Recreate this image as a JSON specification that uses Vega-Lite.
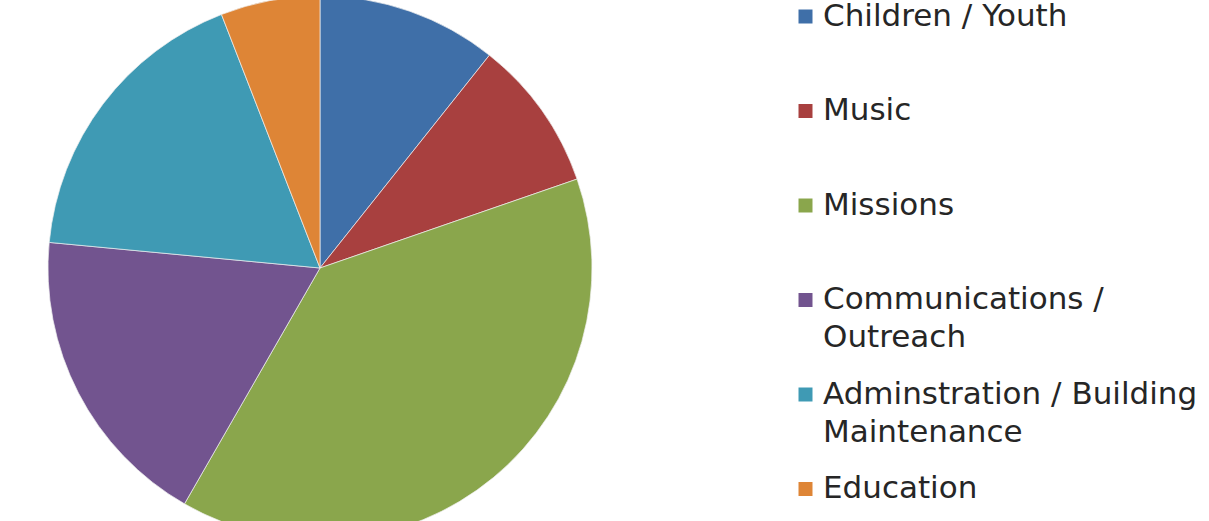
{
  "$schema": "https://vega.github.io/schema/vega-lite/v6.json",
  "width": 640,
  "height": 536,
  "autosize": {"type": "none"},
  "padding": {"left": 0, "top": 0, "right": 569, "bottom": 0},
  "background": "white",
  "data": {
    "values": [
      {"category": "Children / Youth", "rank": 1, "share": 10.7},
      {"category": "Music", "rank": 2, "share": 9.0},
      {"category": "Missions", "rank": 3, "share": 38.6},
      {"category": "Communications / Outreach", "rank": 4, "share": 18.2},
      {"category": "Adminstration / Building Maintenance", "rank": 5, "share": 17.6},
      {"category": "Education", "rank": 6, "share": 5.9}
    ]
  },
  "mark": {"type": "arc", "outerRadius": 272, "stroke": "#f0f0f0", "strokeWidth": 1, "strokeOpacity": 0.7},
  "encoding": {
    "theta": {"field": "share", "type": "quantitative", "stack": true},
    "order": {"field": "rank", "type": "quantitative"},
    "color": {
      "field": "category",
      "type": "nominal",
      "scale": {
        "domain": ["Children / Youth", "Music", "Missions", "Communications / Outreach", "Adminstration / Building Maintenance", "Education"],
        "range": ["#3F6FA8", "#A8403F", "#8AA64C", "#72548F", "#3F9AB4", "#DE8536"]
      },
      "legend": {
        "title": null,
        "orient": "none",
        "legendX": 790,
        "legendY": 1,
        "symbolType": "square",
        "symbolSize": 196,
        "symbolStrokeWidth": 0,
        "symbolOpacity": 1,
        "labelFont": "DejaVu Sans",
        "labelFontSize": 31,
        "labelColor": "#262626",
        "labelLimit": 0,
        "labelOffset": 2,
        "rowPadding": 24.5,
        "labelExpr": "datum.label == 'Communications / Outreach' ? ['Communications /', 'Outreach'] : datum.label == 'Adminstration / Building Maintenance' ? ['Adminstration / Building', 'Maintenance'] : [datum.label, '']",
        "encoding": {"labels": {"lineHeight": {"value": 38}}}
      }
    }
  },
  "config": {"view": {"stroke": null}, "style": {"guide-label": {"lineHeight": 38}}}
}
